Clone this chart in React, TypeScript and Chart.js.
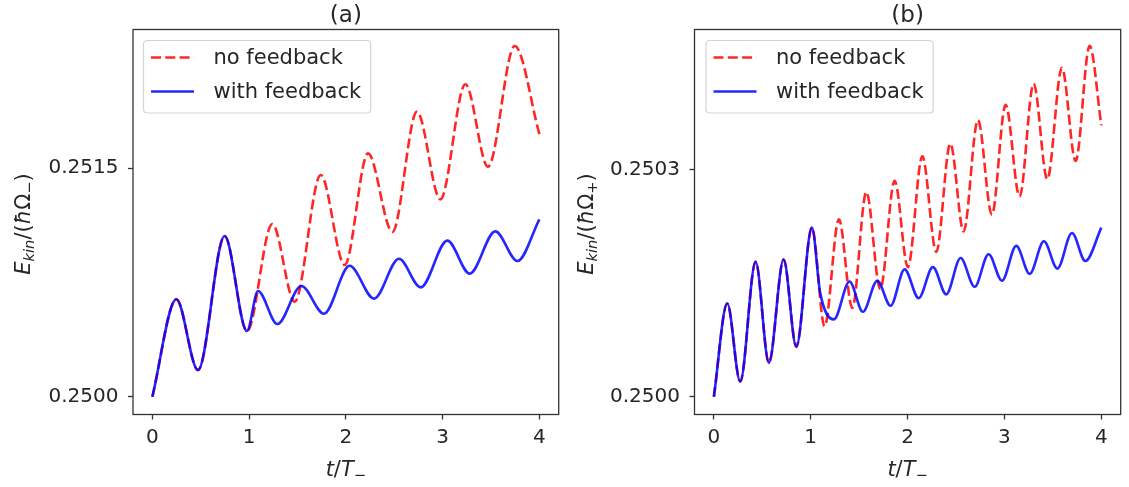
import React, { useEffect, useRef } from 'react';
import { Chart, registerables } from 'chart.js';

Chart.register(...registerables);

// ---------- data ----------
const xTicks = [0, 1, 2, 3, 4];
const yTicksA = [0.25, 0.2515];
const yTicksB = [0.25, 0.2503];
const seriesLabels = ['no feedback', 'with feedback'];
const panelTitles = ['(a)', '(b)'];

// panel (a) – no feedback
const tA_noFb = [0, 0.248, 0.472, 0.747, 0.978, 1.24, 1.471, 1.74, 1.988, 2.229, 2.481, 2.735, 2.977, 3.235, 3.469, 3.745, 4.0];
const eA_noFb = [0.25, 0.25064, 0.250175, 0.251055, 0.250431, 0.251134, 0.250624, 0.251456, 0.250865, 0.251598, 0.251082, 0.251872, 0.251296, 0.252052, 0.25151, 0.252303, 0.251725];
// panel (a) – with feedback
const tA_fb = [0, 0.248, 0.472, 0.747, 0.978, 1.092, 1.292, 1.54, 1.774, 2.039, 2.291, 2.549, 2.773, 3.049, 3.28, 3.545, 3.773, 4.0];
const eA_fb = [0.25, 0.25064, 0.250175, 0.251055, 0.250431, 0.250694, 0.250477, 0.250727, 0.250545, 0.25086, 0.250644, 0.250906, 0.250718, 0.251025, 0.250808, 0.251086, 0.250891, 0.251165];

// panel (b) – no feedback
const tB_noFb = [0, 0.138, 0.272, 0.431, 0.568, 0.72, 0.851, 1.012, 1.143, 1.291, 1.429, 1.574, 1.718, 1.866, 2.003, 2.152, 2.296, 2.441, 2.578, 2.726, 2.87, 3.012, 3.156, 3.301, 3.442, 3.593, 3.735, 3.879, 4.0];
const eB_noFb = [0.25, 0.250123, 0.25002, 0.250178, 0.250045, 0.250181, 0.250066, 0.250223, 0.250093, 0.250234, 0.250117, 0.25027, 0.250142, 0.250285, 0.250171, 0.250317, 0.250191, 0.250334, 0.250218, 0.250365, 0.25024, 0.250385, 0.250264, 0.250413, 0.250287, 0.250434, 0.250311, 0.250463, 0.250358];
// panel (b) – with feedback
const tB_fb = [0, 0.138, 0.272, 0.431, 0.568, 0.72, 0.851, 1.012, 1.099, 1.239, 1.401, 1.538, 1.687, 1.824, 1.969, 2.114, 2.261, 2.399, 2.547, 2.692, 2.836, 2.974, 3.122, 3.26, 3.407, 3.546, 3.697, 3.835, 4.0];
const eB_fb = [0.25, 0.250123, 0.25002, 0.250178, 0.250045, 0.250181, 0.250066, 0.250223, 0.250136, 0.250102, 0.250152, 0.250112, 0.250153, 0.25012, 0.250168, 0.25013, 0.250171, 0.250135, 0.250183, 0.250145, 0.250188, 0.250153, 0.250199, 0.250162, 0.250205, 0.250169, 0.250216, 0.250179, 0.250223];

// ---------- styling ----------
const FONT = '"DejaVu Sans", sans-serif';
const TEXT = '#262626';
const SPINE = '#333333';
const RED = 'rgba(255,0,0,0.85)';
const BLUE = 'rgba(0,0,255,0.85)';
const DASH = [10, 4.3];
const LW = 2.6;

type Seg = { t: string; it?: boolean; sub?: boolean };

function drawMath(ctx: CanvasRenderingContext2D, segs: Seg[], size: number, x: number, y: number, rotate: boolean) {
  const items = segs.map((s) => {
    const fs = s.sub ? size * 0.7 : size;
    ctx.font = `${s.it ? 'italic ' : ''}${fs}px ${FONT}`;
    return { ...s, fs, w: ctx.measureText(s.t).width };
  });
  const total = items.reduce((a, b) => a + b.w, 0);
  ctx.save();
  ctx.translate(x, y);
  if (rotate) ctx.rotate(-Math.PI / 2);
  ctx.fillStyle = TEXT;
  ctx.textBaseline = 'alphabetic';
  ctx.textAlign = 'left';
  let cx = -total / 2;
  const base = size * 0.36;
  for (const it of items) {
    ctx.font = `${it.it ? 'italic ' : ''}${it.fs}px ${FONT}`;
    ctx.fillText(it.t, cx, base + (it.sub ? size * 0.2 : 0));
    cx += it.w;
  }
  ctx.restore();
}

function roundRect(ctx: CanvasRenderingContext2D, x: number, y: number, w: number, h: number, r: number) {
  ctx.beginPath();
  ctx.moveTo(x + r, y);
  ctx.lineTo(x + w - r, y);
  ctx.quadraticCurveTo(x + w, y, x + w, y + r);
  ctx.lineTo(x + w, y + h - r);
  ctx.quadraticCurveTo(x + w, y + h, x + w - r, y + h);
  ctx.lineTo(x + r, y + h);
  ctx.quadraticCurveTo(x, y + h, x, y + h - r);
  ctx.lineTo(x, y + r);
  ctx.quadraticCurveTo(x, y, x + r, y);
  ctx.closePath();
}

const decorPlugin = {
  id: 'decor',
  afterDatasetsDraw(chart: any, _args: any, opts: any) {
    const ctx: CanvasRenderingContext2D = chart.ctx;
    const a = chart.chartArea;
    ctx.save();
    // frame
    ctx.strokeStyle = SPINE;
    ctx.lineWidth = 1.3;
    ctx.strokeRect(a.left, a.top, a.right - a.left, a.bottom - a.top);

    // legend
    const lx = a.left + opts.legendDx;
    const ly = a.top + 11;
    ctx.font = `21px ${FONT}`;
    const tw = Math.max(...seriesLabels.map((s) => ctx.measureText(s).width));
    const bw = 7.5 + 43 + 19.5 + tw + 9.5;
    const bh = 72.5;
    roundRect(ctx, lx, ly, bw, bh, 4);
    ctx.fillStyle = 'rgba(255,255,255,0.85)';
    ctx.fill();
    ctx.strokeStyle = '#d4d4d4';
    ctx.lineWidth = 1.2;
    ctx.stroke();
    const ds = chart.data.datasets;
    [0, 1].forEach((di, row) => {
      const d = ds[di];
      const yy = ly + 17 + row * 34;
      ctx.beginPath();
      ctx.setLineDash(d.borderDash || []);
      ctx.strokeStyle = d.borderColor;
      ctx.lineWidth = LW;
      ctx.moveTo(lx + 7.5, yy);
      ctx.lineTo(lx + 7.5 + 43, yy);
      ctx.stroke();
      ctx.setLineDash([]);
      ctx.fillStyle = TEXT;
      ctx.font = `21px ${FONT}`;
      ctx.textBaseline = 'middle';
      ctx.textAlign = 'left';
      ctx.fillText(d.label, lx + 7.5 + 43 + 19.5, yy + 1);
    });

    // title
    const cxm = (a.left + a.right) / 2;
    ctx.fillStyle = TEXT;
    ctx.font = `23px ${FONT}`;
    ctx.textAlign = 'center';
    ctx.textBaseline = 'alphabetic';
    ctx.fillText(opts.title, cxm, 21.5);

    // x label
    drawMath(ctx, [{ t: 't', it: true }, { t: '/' }, { t: 'T', it: true }, { t: '−', sub: true }], 21, cxm, 468.5, false);
    // y label
    drawMath(
      ctx,
      [{ t: 'E', it: true }, { t: 'kin', it: true, sub: true }, { t: '/(' }, { t: 'ħ', it: true }, { t: 'Ω' }, { t: opts.sub, sub: true }, { t: ')' }],
      21,
      opts.ylabelX,
      (a.top + a.bottom) / 2 + 2,
      true
    );
    ctx.restore();
  },
};

function makeConfig(
  tNo: number[], eNo: number[], tFb: number[], eFb: number[],
  yTicks: number[], yMin: number, yMax: number,
  axisWidth: number, padRight: number, title: string, sub: string, legendDx: number, ylabelX: number
): any {
  return {
    type: 'line',
    data: {
      datasets: [
        {
          label: seriesLabels[0],
          data: tNo.map((t, i) => ({ x: t, y: eNo[i] })),
          borderColor: RED,
          borderDash: DASH,
          borderWidth: LW,
          pointRadius: 0,
          fill: false,
          cubicInterpolationMode: 'monotone',
          order: 1,
        },
        {
          label: seriesLabels[1],
          data: tFb.map((t, i) => ({ x: t, y: eFb[i] })),
          borderColor: BLUE,
          borderWidth: LW,
          pointRadius: 0,
          fill: false,
          cubicInterpolationMode: 'monotone',
          order: 0,
        },
      ],
    },
    options: {
      animation: false,
      responsive: false,
      devicePixelRatio: 1,
      events: [],
      layout: { padding: { left: 0, right: padRight, top: 29.5, bottom: 0 } },
      plugins: {
        legend: { display: false },
        tooltip: { enabled: false },
        title: { display: false },
        decor: { title, sub, legendDx, ylabelX },
      },
      scales: {
        x: {
          type: 'linear',
          min: -0.2,
          max: 4.2,
          afterBuildTicks: (s: any) => {
            s.ticks = xTicks.map((v) => ({ value: v }));
          },
          afterFit: (s: any) => {
            s.height = 72.5;
          },
          grid: { display: true, drawOnChartArea: false, drawTicks: true, tickLength: 5, tickWidth: 1.3, tickColor: SPINE },
          border: { display: false },
          ticks: {
            font: { family: FONT, size: 20 },
            color: TEXT,
            padding: 6,
            maxRotation: 0,
            autoSkip: false,
            callback: (v: any) => String(v),
          },
        },
        y: {
          type: 'linear',
          min: yMin,
          max: yMax,
          afterBuildTicks: (s: any) => {
            s.ticks = yTicks.map((v) => ({ value: v }));
          },
          afterFit: (s: any) => {
            s.width = axisWidth;
          },
          grid: { display: true, drawOnChartArea: false, drawTicks: true, tickLength: 5, tickWidth: 1.3, tickColor: SPINE },
          border: { display: false },
          ticks: {
            font: { family: FONT, size: 20 },
            color: TEXT,
            padding: 9.5,
            autoSkip: false,
            callback: (v: any) => Number(v).toFixed(4),
          },
        },
      },
    },
    plugins: [decorPlugin],
  };
}

export default function App() {
  const refA = useRef<HTMLCanvasElement>(null);
  const refB = useRef<HTMLCanvasElement>(null);

  useEffect(() => {
    document.body.style.margin = '0';
    const cA = new Chart(
      refA.current!,
      makeConfig(tA_noFb, eA_noFb, tA_fb, eA_fb, yTicksA, 0.2498831, 0.2524115, 133, 570.3, panelTitles[0], '−', 10.5, 22)
    );
    const cB = new Chart(
      refB.current!,
      makeConfig(tB_noFb, eB_noFb, tB_fb, eB_fb, yTicksB, 0.24997652, 0.25048445, 694.5, 8.3, panelTitles[1], '+', 11.5, 585)
    );
    return () => {
      cA.destroy();
      cB.destroy();
    };
  }, []);

  const cs: React.CSSProperties = { position: 'absolute', left: 0, top: 0, width: 1129, height: 487 };
  return (
    <div style={{ position: 'absolute', left: 0, top: 0, width: 1129, height: 487, background: '#fff' }}>
      <canvas ref={refA} width={1129} height={487} style={cs} />
      <canvas ref={refB} width={1129} height={487} style={cs} />
    </div>
  );
}
